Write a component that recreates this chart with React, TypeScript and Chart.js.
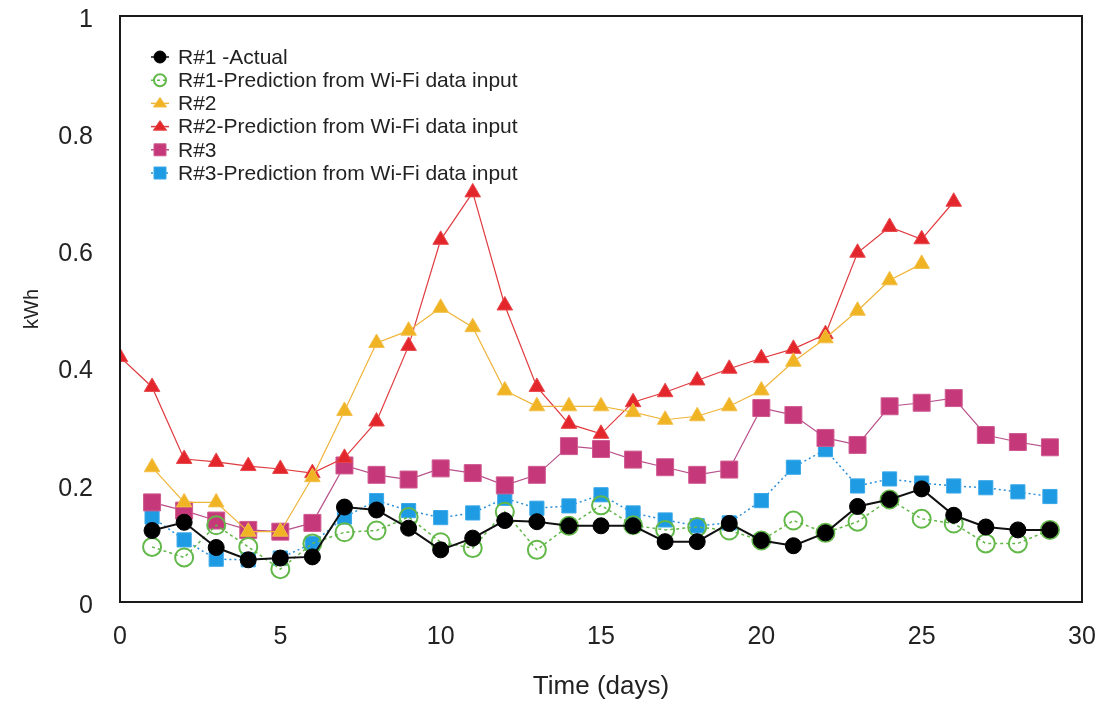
import React, { useEffect, useRef } from "react";
import { Chart, registerables } from "chart.js";

Chart.register(...registerables);

const seriesLabels = [
  "R#1 -Actual",
  "R#1-Prediction from Wi-Fi data input",
  "R#2",
  "R#2-Prediction from Wi-Fi data input",
  "R#3",
  "R#3-Prediction from Wi-Fi data input",
];

const daysFrom1to29 = [1, 2, 3, 4, 5, 6, 7, 8, 9, 10, 11, 12, 13, 14, 15, 16, 17, 18, 19, 20, 21, 22, 23, 24, 25, 26, 27, 28, 29];
const daysFrom1to25 = [1, 2, 3, 4, 5, 6, 7, 8, 9, 10, 11, 12, 13, 14, 15, 16, 17, 18, 19, 20, 21, 22, 23, 24, 25];
const daysFrom0to26 = [0, 1, 2, 3, 4, 5, 6, 7, 8, 9, 10, 11, 12, 13, 14, 15, 16, 17, 18, 19, 20, 21, 22, 23, 24, 25, 26];

const r1Actual = [0.122, 0.136, 0.093, 0.072, 0.075, 0.077, 0.162, 0.157, 0.126, 0.089, 0.109, 0.139, 0.137, 0.13, 0.13, 0.13, 0.103, 0.103, 0.134, 0.105, 0.096, 0.118, 0.163, 0.175, 0.193, 0.148, 0.128, 0.123, 0.123];
const r1Pred = [0.094, 0.076, 0.131, 0.094, 0.056, 0.1, 0.119, 0.122, 0.145, 0.102, 0.092, 0.154, 0.089, 0.13, 0.165, 0.131, 0.123, 0.128, 0.122, 0.105, 0.139, 0.118, 0.137, 0.175, 0.142, 0.134, 0.1, 0.1, 0.123];
const r2Actual = [0.23, 0.17, 0.17, 0.12, 0.12, 0.213, 0.326, 0.442, 0.463, 0.502, 0.469, 0.361, 0.334, 0.334, 0.334, 0.324, 0.311, 0.317, 0.334, 0.361, 0.41, 0.45, 0.497, 0.549, 0.577];
const r2Pred = [0.418, 0.367, 0.244, 0.239, 0.232, 0.227, 0.22, 0.246, 0.308, 0.437, 0.618, 0.699, 0.506, 0.367, 0.304, 0.287, 0.341, 0.358, 0.378, 0.398, 0.416, 0.432, 0.457, 0.596, 0.64, 0.619, 0.683];
const r3Actual = [0.17, 0.156, 0.139, 0.123, 0.12, 0.135, 0.233, 0.217, 0.209, 0.228, 0.22, 0.199, 0.217, 0.266, 0.261, 0.243, 0.23, 0.217, 0.226, 0.331, 0.319, 0.28, 0.268, 0.334, 0.34, 0.348, 0.285, 0.273, 0.264];
const r3Pred = [0.145, 0.106, 0.073, 0.072, 0.075, 0.1, 0.145, 0.173, 0.156, 0.144, 0.152, 0.177, 0.16, 0.164, 0.183, 0.152, 0.14, 0.13, 0.135, 0.173, 0.23, 0.26, 0.198, 0.21, 0.203, 0.198, 0.195, 0.188, 0.18];

const xTicks = [0, 5, 10, 15, 20, 25, 30];
const yTicks = [0, 0.2, 0.4, 0.6, 0.8, 1];

const FONT = "'Liberation Sans', Arial, Helvetica, sans-serif";

const toPoints = (xs: number[], ys: number[]) => xs.map((x, i) => ({ x, y: ys[i] }));

const framePlugin = {
  id: "frame",
  afterDatasetsDraw(chart: any) {
    const { ctx, chartArea } = chart;
    ctx.save();
    ctx.strokeStyle = "#1a1a1a";
    ctx.lineWidth = 2;
    ctx.strokeRect(chartArea.left, chartArea.top, chartArea.right - chartArea.left, chartArea.bottom - chartArea.top);
    ctx.restore();
  },
};

const drawMarker = (ctx: CanvasRenderingContext2D, ds: any, x: number, y: number) => {
  const r = 6;
  ctx.save();
  ctx.fillStyle = ds.pointBackgroundColor;
  ctx.strokeStyle = ds.pointBorderColor;
  ctx.lineWidth = ds.pointBorderWidth;
  ctx.beginPath();
  if (ds.pointStyle === "circle") {
    ctx.arc(x, y, r, 0, Math.PI * 2);
  } else if (ds.pointStyle === "triangle") {
    ctx.moveTo(x, y - r);
    ctx.lineTo(x + r * 1.1, y + r * 0.6);
    ctx.lineTo(x - r * 1.1, y + r * 0.6);
    ctx.closePath();
  } else {
    ctx.rect(x - r, y - r, 2 * r, 2 * r);
  }
  ctx.fill();
  ctx.stroke();
  ctx.restore();
};

const legendPlugin = {
  id: "innerLegend",
  afterDraw(chart: any) {
    const { ctx } = chart;
    const x0 = 160;
    const y0 = 57;
    const gap = 23.2;
    chart.data.datasets.forEach((ds: any, i: number) => {
      const y = y0 + i * gap;
      ctx.save();
      ctx.strokeStyle = ds.borderColor;
      ctx.lineWidth = 1.5;
      ctx.setLineDash(ds.borderDash || []);
      ctx.beginPath();
      ctx.moveTo(x0 - 9, y);
      ctx.lineTo(x0 + 9, y);
      ctx.stroke();
      ctx.restore();
      drawMarker(ctx, ds, x0, y);
      ctx.save();
      ctx.fillStyle = "#222";
      ctx.font = `21px ${FONT}`;
      ctx.textBaseline = "middle";
      ctx.textAlign = "left";
      ctx.fillText(ds.label, x0 + 18, y + 1);
      ctx.restore();
    });
  },
};

export default function App() {
  const canvasRef = useRef<HTMLCanvasElement | null>(null);

  useEffect(() => {
    if (!canvasRef.current) return;
    const chart = new Chart(canvasRef.current, {
      type: "line",
      data: {
        datasets: [
          {
            label: seriesLabels[0],
            data: toPoints(daysFrom1to29, r1Actual),
            borderColor: "#111111",
            borderWidth: 2,
            pointStyle: "circle",
            pointRadius: 8,
            pointBackgroundColor: "#000000",
            pointBorderColor: "#000000",
            pointBorderWidth: 1,
            order: 0,
          },
          {
            label: seriesLabels[1],
            data: toPoints(daysFrom1to29, r1Pred),
            borderColor: "#63b84a",
            borderWidth: 1.5,
            borderDash: [3, 3],
            pointStyle: "circle",
            pointRadius: 9,
            pointBackgroundColor: "rgba(255,255,255,0)",
            pointBorderColor: "#63b84a",
            pointBorderWidth: 2,
            order: 1,
          },
          {
            label: seriesLabels[2],
            data: toPoints(daysFrom1to25, r2Actual),
            borderColor: "#efb43a",
            borderWidth: 1.2,
            pointStyle: "triangle",
            pointRadius: 9,
            pointBackgroundColor: "#f0b323",
            pointBorderColor: "#f2c04a",
            pointBorderWidth: 1,
            order: 2,
          },
          {
            label: seriesLabels[3],
            data: toPoints(daysFrom0to26, r2Pred),
            borderColor: "#e03a3e",
            borderWidth: 1.2,
            pointStyle: "triangle",
            pointRadius: 9,
            pointBackgroundColor: "#e3262b",
            pointBorderColor: "#e84a4d",
            pointBorderWidth: 1,
            order: 3,
          },
          {
            label: seriesLabels[4],
            data: toPoints(daysFrom1to29, r3Actual),
            borderColor: "#b8508a",
            borderWidth: 1.2,
            pointStyle: "rect",
            pointRadius: 12,
            pointBackgroundColor: "#c5397a",
            pointBorderColor: "#d05a90",
            pointBorderWidth: 1,
            order: 4,
          },
          {
            label: seriesLabels[5],
            data: toPoints(daysFrom1to29, r3Pred),
            borderColor: "#2a8fd8",
            borderWidth: 1.5,
            borderDash: [2, 3],
            pointStyle: "rect",
            pointRadius: 10,
            pointBackgroundColor: "#1e9be3",
            pointBorderColor: "#3aa8e8",
            pointBorderWidth: 1,
            order: 5,
          },
        ],
      },
      options: {
        animation: false,
        responsive: true,
        maintainAspectRatio: false,
        layout: { padding: { top: 16, right: 19, left: 0, bottom: 0 } },
        plugins: {
          legend: { display: false },
          tooltip: { enabled: false },
        },
        elements: { line: { tension: 0 } },
        scales: {
          x: {
            type: "linear",
            min: 0,
            max: 30,
            afterBuildTicks: (scale: any) => {
              scale.ticks = xTicks.map((v) => ({ value: v }));
            },
            afterFit: (scale: any) => {
              scale.height = 100;
              scale.paddingLeft = 0;
              scale.paddingRight = 0;
            },
            grid: { display: false, drawTicks: false },
            border: { display: false },
            ticks: {
              color: "#222",
              padding: 20,
              font: { family: FONT, size: 25 },
              maxRotation: 0,
            },
            title: {
              display: true,
              text: "Time (days)",
              color: "#222",
              font: { family: FONT, size: 26 },
              padding: { top: 0, bottom: 0 },
            },
          },
          y: {
            type: "linear",
            min: 0,
            max: 1,
            afterBuildTicks: (scale: any) => {
              scale.ticks = yTicks.map((v) => ({ value: v }));
            },
            afterFit: (scale: any) => {
              scale.width = 120;
              scale.paddingTop = 0;
              scale.paddingBottom = 0;
            },
            grid: { display: false, drawTicks: false },
            border: { display: false },
            ticks: {
              color: "#222",
              padding: 27,
              labelOffset: 4,
              font: { family: FONT, size: 25 },
              callback: (v: any) => String(Math.round(Number(v) * 10) / 10),
            },
            title: {
              display: true,
              text: "kWh",
              color: "#222",
              font: { family: FONT, size: 20 },
              padding: { top: 20, bottom: 0 },
            },
          },
        },
      },
      plugins: [framePlugin, legendPlugin],
    });
    return () => chart.destroy();
  }, []);

  return (
    <div style={{ position: "fixed", left: 0, top: 0, width: 1101, height: 702, background: "#fff" }}>
      <canvas ref={canvasRef} />
    </div>
  );
}
